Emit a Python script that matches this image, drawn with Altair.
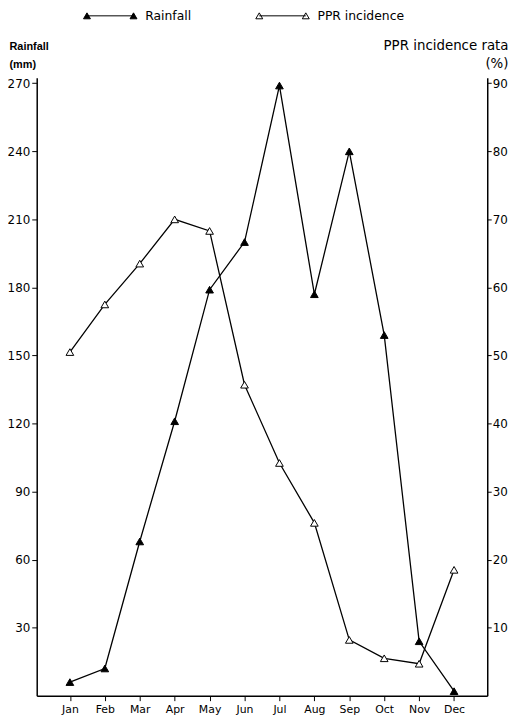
import altair as alt
import pandas as pd

months = ["Jan", "Feb", "Mar", "Apr", "May", "Jun", "Jul", "Aug", "Sep", "Oct", "Nov", "Dec"]
rainfall_mm = [6, 12, 68, 121, 179, 200, 269, 177, 240, 159, 24, 2]
ppr_incidence_pct = [50.5, 57.5, 63.5, 70, 68.3, 45.7, 34.2, 25.4, 8.2, 5.5, 4.7, 18.5]
series_names = ["Rainfall", "PPR incidence"]
rain_ticks = [30, 60, 90, 120, 150, 180, 210, 240, 270]
ppr_ticks = [10, 20, 30, 40, 50, 60, 70, 80, 90]

df = pd.DataFrame({"month": months, "rain": rainfall_mm, "ppr": ppr_incidence_pct})

W, H = 455, 624
LEGEND_PATH = "M-5.4,0.6L-4.7,-0.6L-4,0.6Z M4,0.6L4.7,-0.6L5.4,0.6Z M-4.7,0L4.7,0"

x_enc = alt.X(
    "month:O", sort=months,
    scale=alt.Scale(type="point", padding=0.95),
    axis=alt.Axis(title=None, labelAngle=0, tickSize=5, tickColor="black", tickWidth=1,
                  domainColor="black", domainWidth=1.5, labelFont="DejaVu Sans",
                  labelFontSize=11, labelColor="black", labelPadding=3, grid=False),
)

left_axis = alt.Axis(
    orient="left", values=rain_ticks, grid=False, tickSize=5, tickColor="black", tickWidth=1,
    domainColor="black", domainWidth=1.5, labelFont="DejaVu Sans", labelFontSize=12,
    labelColor="black", labelPadding=2,
    title=["Rainfall", "(mm)"], titleFont="Liberation Sans", titleFontWeight="bold",
    titleFontSize=11, titleColor="black", titleAngle=0, titleAlign="left",
    titleBaseline="alphabetic", titleX=-28, titleY=-28.5, titleLineHeight=18,
)
right_axis = alt.Axis(
    orient="right", values=ppr_ticks, grid=False, tickSize=4, tickColor="black", tickWidth=1,
    domainColor="black", domainWidth=1.5, labelFont="DejaVu Sans", labelFontSize=12,
    labelColor="black", labelPadding=1,
    title=["PPR incidence rata", "(%)"], titleFont="DejaVu Sans", titleFontWeight="normal",
    titleFontSize=13.5, titleColor="black", titleAngle=0, titleAlign="right",
    titleBaseline="alphabetic", titleX=21, titleY=-28.5, titleLineHeight=18,
)

fill_scale = alt.Scale(domain=series_names, range=["black", "white"])
legend = alt.Legend(
    title=None, orient="none", legendX=46, legendY=-69, direction="horizontal",
    symbolType=LEGEND_PATH, symbolSize=100, symbolStrokeColor="black", symbolStrokeWidth=1,
    symbolOpacity=1, symbolOffset=22, labelOffset=29, labelFont="DejaVu Sans",
    labelFontSize=12.5, labelColor="black", columnPadding=63, padding=0,
)

rain_y = alt.Y("rain:Q", scale=alt.Scale(domain=[0, 272.4], nice=False, zero=True), axis=left_axis)
ppr_y = alt.Y("ppr:Q", scale=alt.Scale(domain=[0, 90.8], nice=False, zero=True), axis=right_axis)

rain_base = alt.Chart(df).transform_calculate(series="'Rainfall'").encode(x=x_enc, y=rain_y)
rain_layer = rain_base.mark_line(color="black", strokeWidth=1.3) + rain_base.mark_point(
    shape="triangle-up", filled=True, size=60, stroke="black", strokeWidth=1, opacity=1
).encode(fill=alt.Fill("series:N", scale=fill_scale, legend=legend))

ppr_base = alt.Chart(df).transform_calculate(series="'PPR incidence'").encode(x=x_enc, y=ppr_y)
ppr_layer = ppr_base.mark_line(color="black", strokeWidth=1.3) + ppr_base.mark_point(
    shape="triangle-up", filled=True, size=60, stroke="black", strokeWidth=1, opacity=1
).encode(fill=alt.Fill("series:N", scale=fill_scale, legend=legend))

chart = (
    alt.layer(rain_layer, ppr_layer)
    .resolve_scale(y="independent")
    .properties(
        width=W, height=H,
        autosize=alt.AutoSizeParams(type="none"),
        padding={"left": 29, "top": 67, "right": 25, "bottom": 21},
        background="white",
    )
    .configure_view(strokeWidth=0)
)

chart.save("out.html", embed_options={"renderer": "svg", "actions": False})
